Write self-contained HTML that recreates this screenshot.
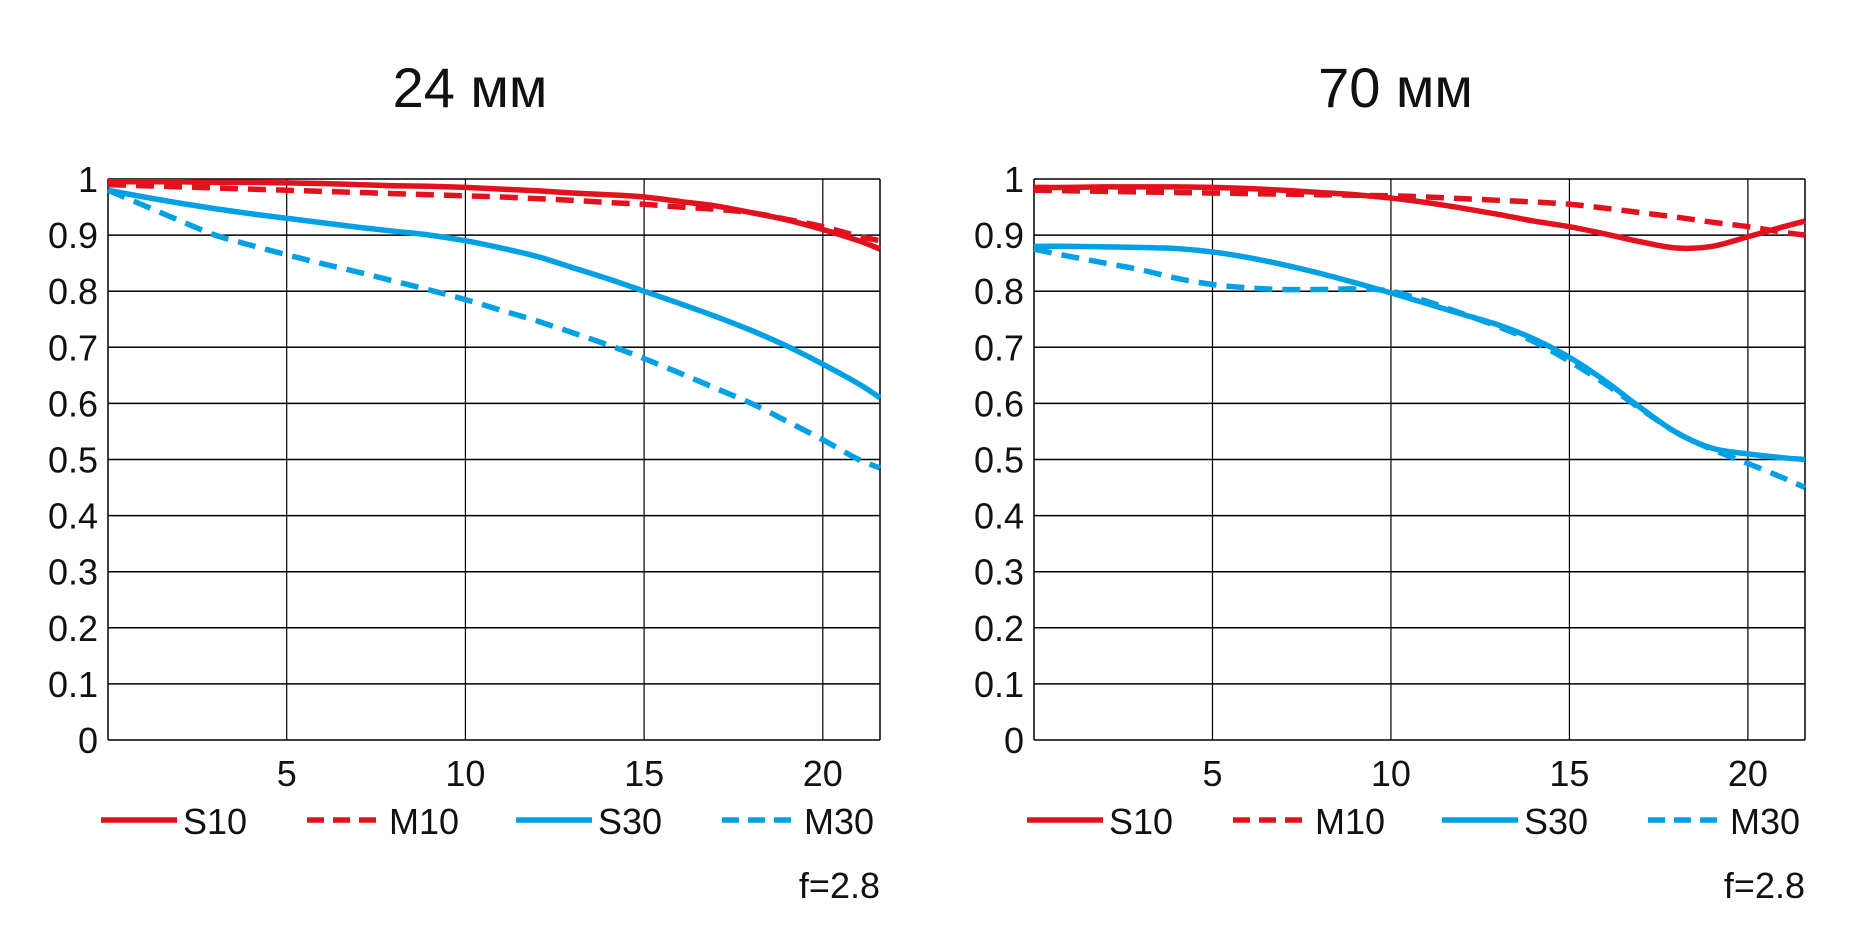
<!DOCTYPE html>
<html><head><meta charset="utf-8"><style>
body{margin:0;background:#fff;}
svg text{font-family:"Liberation Sans","DejaVu Sans",sans-serif;fill:#111;}
</style></head><body>
<svg id="c" width="1864" height="942" xmlns="http://www.w3.org/2000/svg"></svg>
<script>
const xValues = [0,1,2,3,4,5,6,7,8,9,10,11,12,13,14,15,16,17,18,19,20,21,21.6];
const yTicks = [0,0.1,0.2,0.3,0.4,0.5,0.6,0.7,0.8,0.9,1];
const yTickLabels = ["0","0.1","0.2","0.3","0.4","0.5","0.6","0.7","0.8","0.9","1"];
const xTicks = [5,10,15,20];
const xTickLabels = ["5","10","15","20"];
const seriesNames = ["S10","M10","S30","M30"];
const chartTitles = ["24 мм","70 мм"];
// 24 mm
const s10a = [0.995,0.995,0.995,0.994,0.994,0.993,0.992,0.990,0.988,0.987,0.985,0.982,0.979,0.975,0.972,0.968,0.960,0.952,0.940,0.927,0.910,0.890,0.875];
const m10a = [0.990,0.988,0.986,0.984,0.982,0.980,0.978,0.976,0.974,0.972,0.970,0.968,0.965,0.962,0.958,0.955,0.950,0.946,0.940,0.928,0.915,0.898,0.890];
const s30a = [0.980,0.968,0.957,0.947,0.938,0.930,0.922,0.914,0.907,0.900,0.890,0.877,0.862,0.842,0.822,0.800,0.778,0.755,0.730,0.702,0.670,0.635,0.610];
const m30a = [0.980,0.953,0.926,0.900,0.882,0.865,0.849,0.834,0.818,0.802,0.785,0.766,0.747,0.726,0.704,0.680,0.654,0.627,0.600,0.568,0.535,0.500,0.485];
// 70 mm
const s10b = [0.985,0.985,0.986,0.986,0.986,0.985,0.983,0.980,0.976,0.972,0.966,0.958,0.948,0.937,0.925,0.915,0.902,0.888,0.877,0.880,0.897,0.915,0.925];
const m10b = [0.980,0.979,0.978,0.977,0.976,0.975,0.974,0.973,0.972,0.971,0.970,0.968,0.965,0.962,0.959,0.955,0.948,0.940,0.932,0.923,0.915,0.905,0.900];
const s30b = [0.880,0.880,0.879,0.878,0.876,0.870,0.860,0.847,0.832,0.815,0.797,0.778,0.759,0.740,0.715,0.682,0.640,0.592,0.548,0.520,0.510,0.503,0.500];
const m30b = [0.875,0.862,0.850,0.838,0.823,0.812,0.806,0.803,0.803,0.804,0.800,0.782,0.760,0.737,0.710,0.675,0.635,0.590,0.548,0.518,0.493,0.467,0.450];

const NS="http://www.w3.org/2000/svg";
const svg=document.getElementById('c');
function el(t,a,p){const e=document.createElementNS(NS,t);for(const k in a)e.setAttribute(k,a[k]);(p||svg).appendChild(e);return e;}
const RED="#e3101d", BLUE="#00a0e4";
const styles=[{c:RED,d:null},{c:RED,d:"18 10"},{c:BLUE,d:null},{c:BLUE,d:"18 10"}];
function path(pts){let d="M"+pts[0][0]+","+pts[0][1];
 for(let i=0;i<pts.length-1;i++){const p0=pts[i-1]||pts[i],p1=pts[i],p2=pts[i+1],p3=pts[i+2]||p2;
  d+=" C"+(p1[0]+(p2[0]-p0[0])/6)+","+(p1[1]+(p2[1]-p0[1])/6)+" "+(p2[0]-(p3[0]-p1[0])/6)+","+(p2[1]-(p3[1]-p1[1])/6)+" "+p2[0]+","+p2[1];}
 return d;}
function chart(x0,x1,title,data,idx){
 const top=179,bot=740,xmax=21.6;
 const xs=v=>x0+v/xmax*(x1-x0), ys=v=>bot-v*(bot-top);
 const g=el('g',{});
 
 
 const t=el('text',{x:(x0+x1)/2-24,y:107,'font-size':56,'text-anchor':'middle'},g);t.textContent=title;
 
 
 yTicks.forEach((v,i)=>{const l=el('line',{x1:x0,x2:x1,y1:ys(v),y2:ys(v),stroke:'#000','stroke-width':1.5},g);
  
  
  const tx=el('text',{x:x0-10,y:ys(v)+13,'font-size':36,'text-anchor':'end'},g);tx.textContent=yTickLabels[i];
  
  });
 xTicks.forEach((v,i)=>{const l=el('line',{x1:xs(v),x2:xs(v),y1:top,y2:bot,stroke:'#000','stroke-width':1.2},g);
  
  
  const tx=el('text',{x:xs(v),y:786,'font-size':36,'text-anchor':'middle'},g);tx.textContent=xTickLabels[i];
  
  });
 [x0,x1].forEach(x=>{const l=el('line',{x1:x,x2:x,y1:top,y2:bot,stroke:'#000','stroke-width':1.5},g);
  
  });
 [3,2,1,0].forEach(s=>{const pts=xValues.map((v,i)=>[xs(v),ys(data[s][i])]);
  const p=el('path',{d:path(pts),fill:'none',stroke:styles[s].c,'stroke-width':5.5},g);
  if(styles[s].d)p.setAttribute('stroke-dasharray',styles[s].d);
  
  });
 const lx=[0,206,415,621];
 seriesNames.forEach((n,s)=>{const bx=x0-7+lx[s];
  const l=el('line',{x1:bx,x2:bx+76,y1:820,y2:820,stroke:styles[s].c,'stroke-width':5.5},g);
  if(styles[s].d)l.setAttribute('stroke-dasharray',"17 9");
  
  
  const tx=el('text',{x:bx+82,y:834,'font-size':36},g);tx.textContent=n;
  
  });
 const f=el('text',{x:x1,y:898,'font-size':36,'text-anchor':'end'},g);f.textContent="f=2.8";
 
 
}
chart(108,880,chartTitles[0],[s10a,m10a,s30a,m30a],'24mm');
chart(1034,1805,chartTitles[1],[s10b,m10b,s30b,m30b],'70mm');
</script>
</body></html>
